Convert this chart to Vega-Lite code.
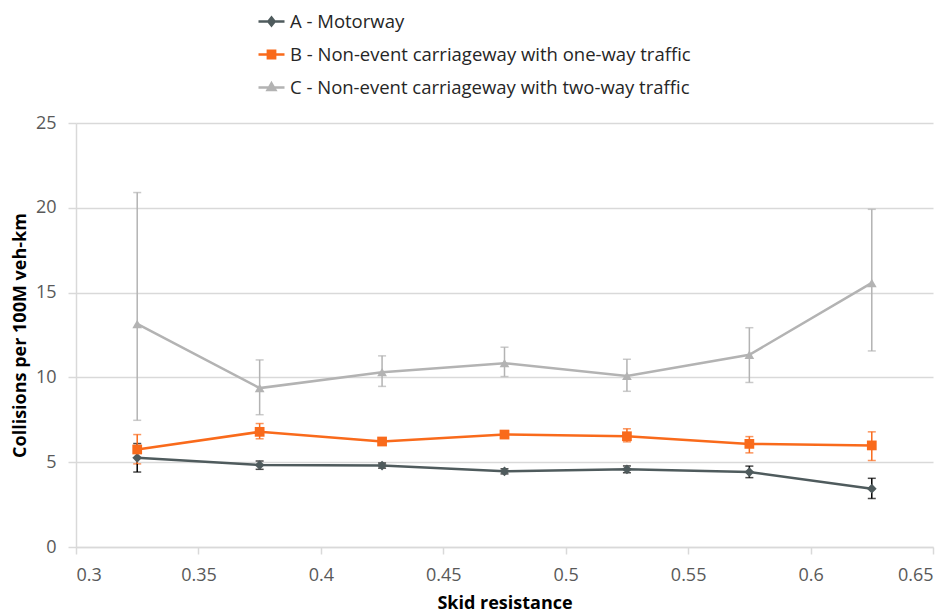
{
  "$schema": "https://vega.github.io/schema/vega-lite/v6.json",
  "width": 857,
  "height": 424,
  "autosize": {"type": "none"},
  "padding": {"left": 76, "top": 123, "right": 19, "bottom": 66},
  "background": "white",
  "config": {
    "font": "Open Sans",
    "view": {"stroke": null},
    "axis": {
      "labelFont": "Open Sans",
      "labelFontSize": 18,
      "labelColor": "#595959",
      "titleFont": "Open Sans",
      "titleFontSize": 18,
      "titleFontWeight": "bold",
      "titleColor": "#000000",
      "domainColor": "#d9d9d9",
      "tickColor": "#d9d9d9",
      "gridColor": "#d9d9d9",
      "gridWidth": 1.5,
      "domainWidth": 1.5,
      "tickWidth": 1.5
    },
    "legend": {"padding": 0}
  },
  "data": {
    "values": [
      {"series": "A - Motorway", "skid": 0.325, "rate": 5.26, "lo": 4.42, "hi": 6.1},
      {"series": "A - Motorway", "skid": 0.375, "rate": 4.83, "lo": 4.58, "hi": 5.07},
      {"series": "A - Motorway", "skid": 0.425, "rate": 4.8, "lo": 4.65, "hi": 4.95},
      {"series": "A - Motorway", "skid": 0.475, "rate": 4.46, "lo": 4.31, "hi": 4.61},
      {"series": "A - Motorway", "skid": 0.525, "rate": 4.58, "lo": 4.38, "hi": 4.78},
      {"series": "A - Motorway", "skid": 0.575, "rate": 4.42, "lo": 4.09, "hi": 4.77},
      {"series": "A - Motorway", "skid": 0.625, "rate": 3.44, "lo": 2.86, "hi": 4.05},
      {"series": "B - Non-event carriageway with one-way traffic", "skid": 0.325, "rate": 5.75, "lo": 4.9, "hi": 6.63},
      {"series": "B - Non-event carriageway with one-way traffic", "skid": 0.375, "rate": 6.79, "lo": 6.38, "hi": 7.28},
      {"series": "B - Non-event carriageway with one-way traffic", "skid": 0.425, "rate": 6.22, "lo": 6.07, "hi": 6.37},
      {"series": "B - Non-event carriageway with one-way traffic", "skid": 0.475, "rate": 6.63, "lo": 6.43, "hi": 6.83},
      {"series": "B - Non-event carriageway with one-way traffic", "skid": 0.525, "rate": 6.53, "lo": 6.2, "hi": 6.97},
      {"series": "B - Non-event carriageway with one-way traffic", "skid": 0.575, "rate": 6.08, "lo": 5.55, "hi": 6.51},
      {"series": "B - Non-event carriageway with one-way traffic", "skid": 0.625, "rate": 5.99, "lo": 5.1, "hi": 6.79},
      {"series": "C - Non-event carriageway with two-way traffic", "skid": 0.325, "rate": 13.15, "lo": 7.47, "hi": 20.9},
      {"series": "C - Non-event carriageway with two-way traffic", "skid": 0.375, "rate": 9.37, "lo": 7.8, "hi": 11.03},
      {"series": "C - Non-event carriageway with two-way traffic", "skid": 0.425, "rate": 10.31, "lo": 9.47, "hi": 11.27},
      {"series": "C - Non-event carriageway with two-way traffic", "skid": 0.475, "rate": 10.84, "lo": 10.05, "hi": 11.78},
      {"series": "C - Non-event carriageway with two-way traffic", "skid": 0.525, "rate": 10.09, "lo": 9.18, "hi": 11.07},
      {"series": "C - Non-event carriageway with two-way traffic", "skid": 0.575, "rate": 11.33, "lo": 9.7, "hi": 12.93},
      {"series": "C - Non-event carriageway with two-way traffic", "skid": 0.625, "rate": 15.57, "lo": 11.56, "hi": 19.91}
    ]
  },
  "encoding": {
    "x": {
      "field": "skid",
      "type": "quantitative",
      "title": "Skid resistance",
      "scale": {"domain": [0.3, 0.65], "nice": false, "zero": false},
      "axis": {
        "values": [0.3, 0.35, 0.4, 0.45, 0.5, 0.55, 0.6, 0.65],
        "format": ".2~f",
        "grid": false,
        "tickSize": 7,
        "labelPadding": 12,
        "titlePadding": 10
      }
    }
  },
  "layer": [
    {
      "mark": {"type": "errorbar", "ticks": {"size": 8}, "thickness": 1.5},
      "encoding": {
        "y": {
          "field": "lo",
          "type": "quantitative",
          "title": "Collisions per 100M veh-km",
          "scale": {"domain": [0, 25], "nice": false},
          "axis": {
            "values": [0, 5, 10, 15, 20, 25],
            "tickSize": 8,
            "labelPadding": 12,
            "titlePadding": 6,
            "domain": true
          }
        },
        "y2": {"field": "hi"},
        "color": {
          "field": "series",
          "type": "nominal",
          "scale": {"range": ["#000000", "#f96a1b", "#b3b3b3"]},
          "legend": null
        }
      }
    },
    {
      "layer": [
        {
          "mark": {"type": "line", "strokeWidth": 2.5},
          "encoding": {
            "y": {"field": "rate", "type": "quantitative"},
            "color": {
              "field": "series",
              "type": "nominal",
              "scale": {"range": ["#4f5b5d", "#f96a1b", "#b3b3b3"]},
              "legend": null
            }
          }
        },
        {
          "mark": {"type": "point", "filled": true, "opacity": 1},
          "encoding": {
            "y": {"field": "rate", "type": "quantitative"},
            "color": {"field": "series", "type": "nominal", "legend": null},
            "shape": {
              "field": "series",
              "type": "nominal",
              "legend": null,
              "scale": {"range": ["diamond", "square", "triangle-up"]}
            },
            "size": {"value": 95}
          }
        }
      ]
    },
    {
      "mark": {"type": "point", "filled": false, "opacity": 0, "strokeWidth": 2.5},
      "encoding": {
        "y": {"field": "rate", "type": "quantitative"},
        "color": {
          "field": "series",
          "type": "nominal",
          "title": null,
          "scale": {"range": ["#4f5b5d", "#f96a1b", "#b3b3b3"]},
          "legend": {
            "orient": "none",
            "legendX": 181,
            "legendY": -116,
            "direction": "vertical",
            "rowPadding": 9,
            "labelFont": "Open Sans",
            "labelFontSize": 18.5,
            "labelColor": "#262626",
            "labelLimit": 600,
            "symbolSize": 676,
            "symbolOpacity": 1,
            "symbolStrokeWidth": 2.5,
            "labelOffset": 4
          }
        },
        "shape": {
          "field": "series",
          "type": "nominal",
          "title": null,
          "scale": {
            "range": [
              "M-1,0H1M0,-0.3L0.24,0L0,0.3L-0.24,0ZM0,-0.1L0.08,0L0,0.1L-0.08,0Z",
              "M-1,0H1M-0.28,-0.28H0.28V0.28H-0.28ZM-0.1,-0.1H0.1V0.1H-0.1Z",
              "M-1,0H1M0,-0.32L0.3,0.2H-0.3ZM0,-0.1L0.1,0.08H-0.1Z"
            ]
          },
          "legend": {
            "orient": "none",
            "legendX": 181,
            "legendY": -116,
            "direction": "vertical",
            "rowPadding": 9,
            "labelFont": "Open Sans",
            "labelFontSize": 18.5,
            "labelColor": "#262626",
            "labelLimit": 600,
            "symbolSize": 676,
            "symbolOpacity": 1,
            "symbolStrokeWidth": 2.5,
            "labelOffset": 4
          }
        }
      }
    }
  ],
  "resolve": {"scale": {"color": "independent", "shape": "independent"}}
}
